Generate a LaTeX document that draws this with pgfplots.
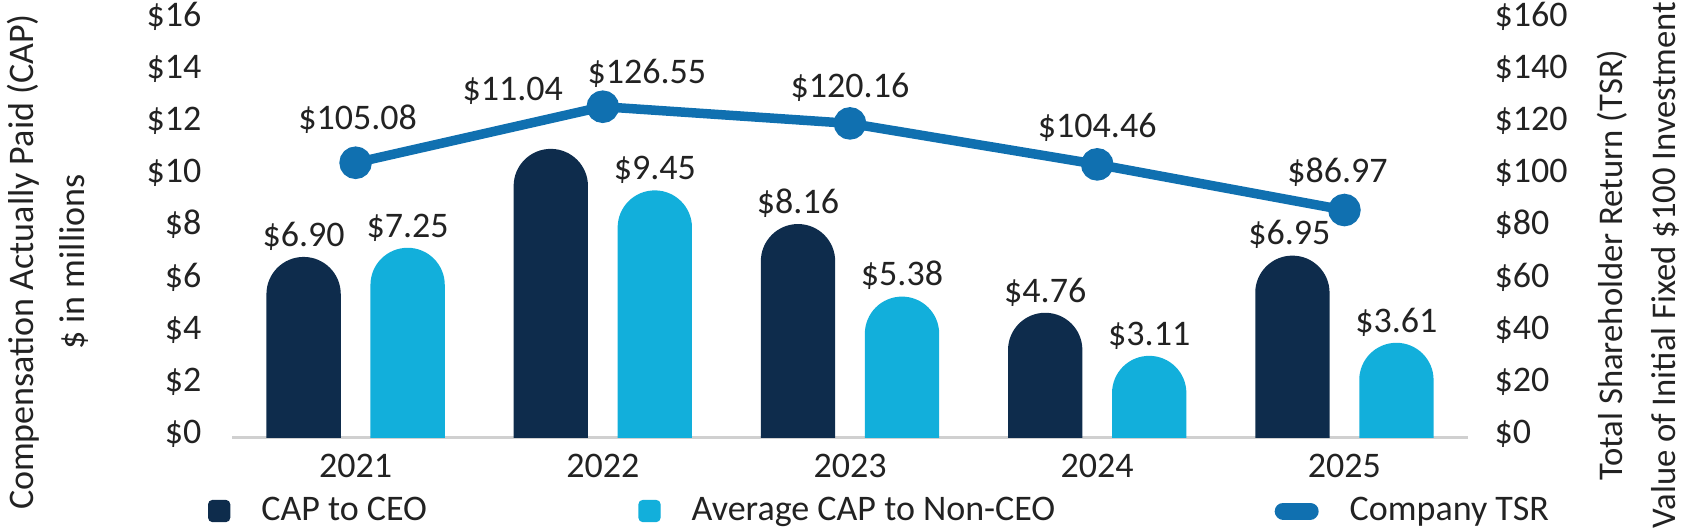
\documentclass[border=0pt]{standalone}
\usepackage{pgfplots}
\usepackage{pgfplotstable}
\pgfplotsset{compat=1.18}
\usepackage{fontspec}
\setmainfont{Carlito}
\definecolor{ceo}{HTML}{0E2C4C}
\definecolor{nonceo}{HTML}{12AFDB}
\definecolor{tsr}{HTML}{1070B0}
\definecolor{txt}{HTML}{222222}
\definecolor{axisgray}{HTML}{D0D0D0}

\pgfdeclareplotmark{capbar}{%
  \pgfpathmoveto{\pgfqpoint{-\pgfplotmarksize}{-400pt}}%
  \pgfpathlineto{\pgfqpoint{-\pgfplotmarksize}{-\pgfplotmarksize}}%
  \pgfpatharc{180}{0}{\pgfplotmarksize}%
  \pgfpathlineto{\pgfqpoint{\pgfplotmarksize}{-400pt}}%
  \pgfpathclose
  \pgfusepathqfill}

\newcommand\fs{\fontsize{10.8}{13}\selectfont}
\newcommand\fr{\fontsize{10.4}{12.5}\selectfont}

\pgfplotstableread{
x y
0 6.90
1 11.04
2 8.16
3 4.76
4 6.95
}\ceodata
\pgfplotstableread{
x y
0 7.25
1 9.45
2 5.38
3 3.11
4 3.61
}\nonceodata
\pgfplotstableread{
x y
0 105.08
1 126.55
2 120.16
3 104.46
4 86.97
}\tsrdata

\tikzset{lab/.style={anchor=base, font=\fs, text=txt, inner sep=0pt}}
% label: #1 x, #2 y, #3 dx (px), #4 dy above point (px), #5 text
\newcommand\lab[5]{\node[lab, xshift={#3*0.3pt}, yshift={(#4-11.3)*0.3pt}] at (axis cs:#1,#2) {\$#5};}

\pgfplotsset{
  common/.style={
    at={(69.6pt,27.9pt)}, anchor=south west,
    scale only axis, width=370.8pt, height=125.28pt,
    xmin=-0.5, xmax=4.5, ymin=0,
    major tick length=0pt, tick style={draw=none},
    yticklabel={\$\pgfmathprintnumber{\tick}},
    /pgf/number format/assume math mode=true,
    ticklabel style={font=\fs, text=txt, inner sep=0pt},
    y axis line style={draw=none},
  }
}

\begin{document}
\begin{tikzpicture}
\useasboundingbox (0,0) rectangle (504.6pt,159pt);
\begin{axis}[
  common, ymax=16,
  axis x line*=bottom, axis y line*=left,
  x axis line style={draw=axisgray, line width=0.9pt, -},
  xtick={0,...,4}, xticklabels={2021,2022,2023,2024,2025},
  ytick={0,2,...,16},
  yticklabel style={anchor=base east, xshift=-9pt, yshift=-2pt},
  xticklabel style={anchor=base, yshift=-12pt},
  clip marker paths=true,
]
\addplot[ceo, only marks, mark=capbar, mark size=11.15pt, xshift=-15.6pt] table[x=x,y=y] {\ceodata};
\addplot[nonceo, only marks, mark=capbar, mark size=11.15pt, xshift=15.6pt] table[x=x,y=y] {\nonceodata};
\lab{0}{6.90}{-52}{22}{6.90}
\lab{1}{11.04}{-90}{60}{11.04}
\lab{2}{8.16}{-52}{22}{8.16}
\lab{3}{4.76}{-52}{22}{4.76}
\lab{4}{6.95}{-55}{22}{6.95}
\lab{0}{7.25}{52}{22}{7.25}
\lab{1}{9.45}{52}{22}{9.45}
\lab{2}{5.38}{52}{22}{5.38}
\lab{3}{3.11}{52}{22}{3.11}
\lab{4}{3.61}{52}{22}{3.61}
\end{axis}
\begin{axis}[
  common, ymax=160,
  hide x axis,
  axis y line*=right,
  ytick={0,20,...,160},
  yticklabel style={anchor=base west, xshift=7.8pt, yshift=-2pt},
  clip=false,
  legend columns=3,
  legend style={draw=none, fill=none, font=\fs, text=txt, inner sep=0pt, outer sep=0pt,
     at={(axis description cs:0,0)}, anchor=west, xshift=-7.2pt, yshift=-22.2pt,
     /tikz/every odd column/.style={column sep=9.3pt},
     /tikz/every even column/.style={column sep=0pt},
     nodes={inner sep=0pt}},
  legend cell align=left,
]
\addlegendimage{legend image code/.code={\fill[ceo, rounded corners=1.2pt] (0,-3.15pt) rectangle (6.3pt,3.15pt);}}
\addlegendentry{\makebox[113.1pt][l]{CAP to CEO}}
\addlegendimage{legend image code/.code={\fill[nonceo, rounded corners=1.2pt] (0,-3.15pt) rectangle (6.3pt,3.15pt);}}
\addlegendentry{\makebox[174.9pt][l]{Average CAP to Non-CEO}}
\addplot[tsr, line width=2.85pt, mark=*, mark size=3.45pt, mark options={fill=tsr, draw=none},
  legend image code/.code={\draw[tsr, line width=5.1pt, line cap=round] (2.55pt,0) -- (10.65pt,0);}]
  table[x=x,y=y] {\tsrdata};
\addlegendentry{Company TSR}
\lab{0}{105.08}{2}{45}{105.08}
\lab{1}{126.55}{44}{35}{126.55}
\lab{2}{120.16}{0}{37}{120.16}
\lab{3}{104.46}{0}{38}{104.46}
\lab{4}{86.97}{-7}{39}{86.97}
\end{axis}
\node[rotate=90, anchor=base, inner sep=0pt, font=\fs, text=txt] at (9.9pt,80.4pt) {Compensation Actually Paid (CAP)};
\node[rotate=90, anchor=base, inner sep=0pt, font=\fs, text=txt] at (25.2pt,80.4pt) {\$ in millions};
\node[rotate=90, anchor=base, inner sep=0pt, font=\fr, text=txt] at (486.6pt,79.5pt) {Total Shareholder Return (TSR)};
\node[rotate=90, anchor=base, inner sep=0pt, font=\fr, text=txt] at (502.5pt,79.5pt) {Value of Initial Fixed \$100 Investment};
\end{tikzpicture}
\end{document}
